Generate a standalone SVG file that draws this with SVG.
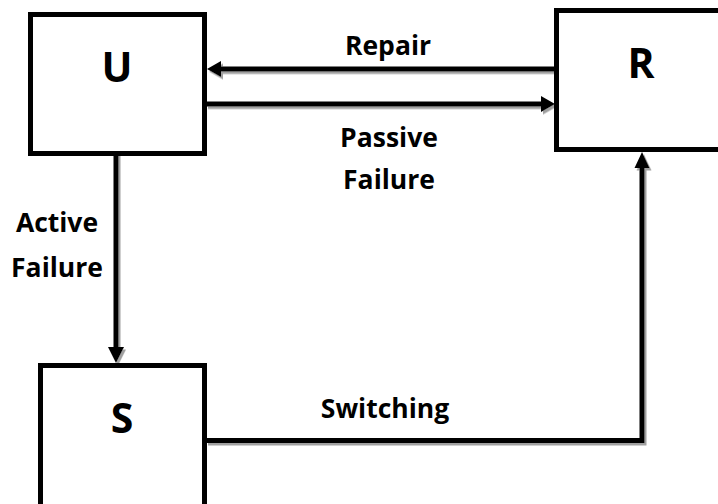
<svg xmlns="http://www.w3.org/2000/svg" width="718" height="504" viewBox="0 0 718 504">
  <defs>
    <filter id="sh" x="-10%" y="-10%" width="120%" height="120%">
      <feDropShadow dx="2" dy="2.5" stdDeviation="0.6" flood-color="#888" flood-opacity="0.8"/>
    </filter>
  </defs>
  <style>
    .box { fill: #fff; stroke: #000; stroke-width: 5; }
    .big { font-family: "Open Sans", "Liberation Sans", sans-serif; font-weight: 700; font-size: 41px; fill: #000; text-anchor: middle; }
    .lbl { font-family: "Open Sans", "Liberation Sans", sans-serif; font-weight: 700; font-size: 26.5px; fill: #000; text-anchor: middle; }
    .ln { fill: none; stroke: #000; stroke-width: 5; }
    .ah { fill: #000; }
  </style>
  <rect width="718" height="504" fill="#fff"/>

  <g id="connectors" filter="url(#sh)">
    <line class="ln" x1="555" y1="69" x2="218" y2="69"/>
    <polygon class="ah" points="207,69 221,61 221,77"/>
    <line class="ln" x1="206" y1="104" x2="543" y2="104"/>
    <polygon class="ah" points="555,104 541,96 541,112"/>
    <line class="ln" x1="116" y1="152" x2="116" y2="350"/>
    <polygon class="ah" points="116,363 108,347 124,347"/>
    <polyline class="ln" points="206,440.5 642,440.5 642,165"/>
    <polygon class="ah" points="642,152 634.5,168 649.5,168"/>
  </g>

  <g id="node-U">
    <rect class="box" x="30.5" y="14.5" width="174" height="139"/>
    <text class="big" x="117" y="82">U</text>
  </g>
  <g id="node-R">
    <rect class="box" x="556.5" y="10.5" width="200" height="139"/>
    <text class="big" x="641" y="78">R</text>
  </g>
  <g id="node-S">
    <rect class="box" x="40.5" y="365.5" width="164" height="160"/>
    <text class="big" x="122" y="433">S</text>
  </g>

  <g id="labels">
    <text class="lbl" x="388" y="55">Repair</text>
    <text class="lbl" x="389" y="147">Passive</text>
    <text class="lbl" x="389" y="189">Failure</text>
    <text class="lbl" x="57" y="232">Active</text>
    <text class="lbl" x="57" y="277">Failure</text>
    <text class="lbl" x="385" y="418">Switching</text>
  </g>
</svg>
